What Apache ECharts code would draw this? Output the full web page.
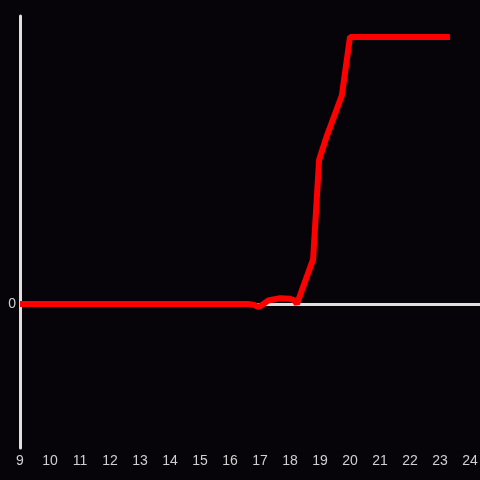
<!DOCTYPE html>
<html>
<head>
<meta charset="utf-8">
<script src="https://cdn.jsdelivr.net/npm/echarts@6/dist/echarts.min.js"></script>
<style>
html, body { margin: 0; padding: 0; background: #060409; }
#chart { width: 480px; height: 480px; }
</style>
</head>
<body>
<div id="chart"></div>
<script>
// curve (x = hour, y = arbitrary units, 0 baseline)
var xs = [9, 16.6, 16.8, 16.93, 17.05, 17.27, 17.67, 18.0, 18.15, 18.23, 18.77, 18.97, 19.2, 19.73, 20.0, 23.33];
var ys = [0, 0, -0.3, -1, -0.5, 1.2, 2, 1.8, 1.2, 0, 15.5, 50, 57.5, 72.5, 92.7, 92.7];
var xTicks = [9, 10, 11, 12, 13, 14, 15, 16, 17, 18, 19, 20, 21, 22, 23, 24];

var points = [];
xs.forEach(function (value, index) {
	points.push([value, ys[index]]);
});

var chart = echarts.init(document.getElementById('chart'));
var option = {
	backgroundColor: '#060409',
	animation: false,
	grid: {
		top: 16,
		right: 0,
		bottom: 32,
		left: 20,
		outerBoundsMode: 'none'
	},
	xAxis: {
		type: 'value',
		min: 9,
		max: 24.333,
		interval: 1,
		axisLine: { show: false, onZero: false },
		axisTick: { show: false },
		splitLine: { show: false },
		axisLabel: {
			color: '#d0d0d0',
			fontSize: 14,
			margin: 6,
			formatter: function (v) {
				return xTicks.indexOf(v) >= 0 ? String(v) : '';
			}
		}
	},
	yAxis: {
		type: 'value',
		min: -50,
		max: 100,
		interval: 50,
		axisLine: {
			show: true,
			onZero: false,
			lineStyle: { color: '#e0e0e0', width: 3 }
		},
		axisTick: { show: false },
		splitLine: { show: false },
		axisLabel: {
			color: '#d0d0d0',
			fontSize: 14,
			margin: 4,
			formatter: function (v) {
				return v === 0 ? '0' : '';
			}
		}
	},
	series: [{
		type: 'line',
		data: points,
		showSymbol: false,
		lineStyle: { color: '#ff0000', width: 6 },
		z: 3,
		markLine: {
			silent: true,
			symbol: 'none',
			label: { show: false },
			lineStyle: { color: '#e0e0e0', width: 3, type: 'solid' },
			data: [{ yAxis: 0 }],
			z: 1
		}
	}]
};
chart.setOption(option);
</script>
</body>
</html>
